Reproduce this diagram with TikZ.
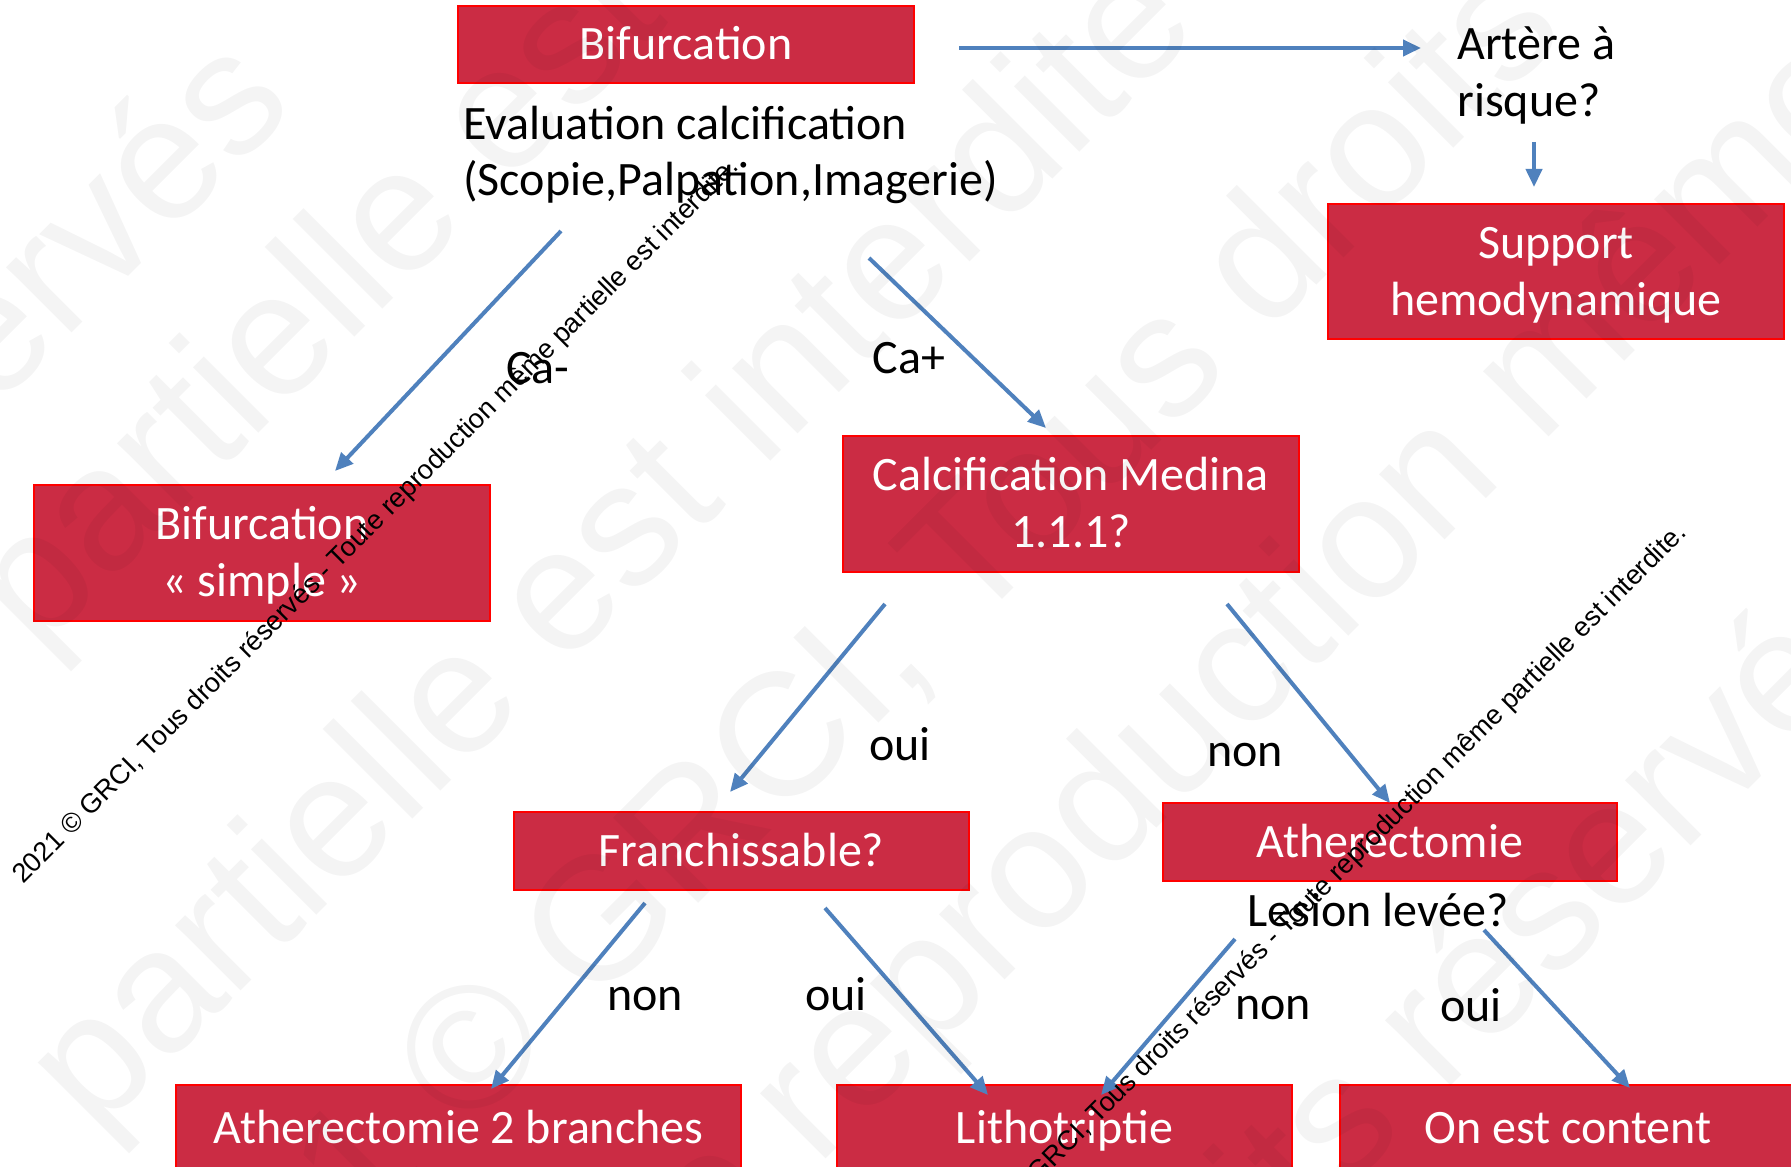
\documentclass[tikz,border=0pt]{standalone}
\usepackage{fontspec}
\setmainfont{Carlito}
\newfontfamily\wmfont{Liberation Sans}
\usetikzlibrary{arrows.meta}
\definecolor{boxfill}{RGB}{203,44,68}
\definecolor{boxline}{RGB}{255,0,0}
\definecolor{arrowblue}{RGB}{79,129,189}
\newcommand{\mainsz}{\fontsize{24}{28.5}\selectfont}
\newcommand{\wmbig}{\wmfont\fontsize{87.5}{100}\selectfont}
\newcommand{\wmsmall}{\wmfont\fontsize{13.6}{16}\selectfont}
\newcommand{\bxstrut}{\rule[-0.26em]{0pt}{1.16em}}
\begin{document}
\begin{tikzpicture}[x=0.5pt,y=-0.5pt,
  box/.style={draw=boxline, line width=1pt, fill=boxfill, text=white, inner sep=0pt, align=center, font=\mainsz},
  txt/.style={inner sep=0pt, text=black, font=\mainsz},
  lbl/.style={inner sep=0pt, text=black, font=\mainsz, anchor=base},
  arr/.style={draw=arrowblue, line width=2pt, -{Triangle[length=9pt,width=8pt]}},
  wm/.style={inner sep=0pt, rotate=45, text=black, text opacity=0.045, font=\wmbig, anchor=base west},
  crt/.style={inner sep=0pt, rotate=45, text=black, font=\wmsmall},
]
\useasboundingbox (0,0) rectangle (1791,1166);
\clip (0,0) rectangle (1791,1166);
\fill[white] (0,0) rectangle (1791,1166);

% boxes
\node[box, minimum width=228pt, minimum height=38.5pt] (bif) at (686,44.5) {\bxstrut Bifurcation};
\node[box, minimum width=228pt, minimum height=67.5pt] (supp) at (1556,271.5) {\bxstrut Support\\\bxstrut hemodynamique};
\node[box, minimum width=228pt, minimum height=68pt] (simp) at (262,553) {\bxstrut Bifurcation\\\bxstrut « simple »};
\node[box, minimum width=228pt, minimum height=68pt] (med) at (1071,504) {\bxstrut Calcification Medina\\\bxstrut 1.1.1?};
\node[box, minimum width=227.5pt, minimum height=39pt] (fran) at (741.5,851) {\bxstrut Franchissable?};
\node[box, minimum width=227pt, minimum height=39pt] (ath) at (1390,842) {\bxstrut Atherectomie};
\node[box, minimum width=282.5pt, minimum height=43pt] (ath2) at (458.5,1128) {\bxstrut Atherectomie 2 branches};
\node[box, minimum width=227.5pt, minimum height=43pt] (lith) at (1064.5,1128) {\bxstrut Lithotriptie};
\node[box, minimum width=228pt, minimum height=43pt] (cont) at (1568,1128) {\bxstrut On est content};

% free texts
\node[txt, anchor=base west] (ev1) at (463,140) {Evaluation calcification};
\node[txt, anchor=base west] (ev2) at (463,196) {(Scopie,Palpation,Imagerie)};
\node[txt, anchor=base west] (art1) at (1457,60) {Artère à};
\node[txt, anchor=base west] (art2) at (1457,117) {risque?};
\node[txt, anchor=base west] (les) at (1247,926) {Lesion levée?};

% labels
\node[lbl] (lcam) at (538,383) {Ca-};
\node[lbl] (lcap) at (909,373) {Ca+};
\node[lbl] (loui1) at (900,760) {oui};
\node[lbl] (lnon1) at (1245,766) {non};
\node[lbl] (lnon2) at (645,1010) {non};
\node[lbl] (loui2) at (836,1010) {oui};
\node[lbl] (lnon3) at (1273,1019) {non};
\node[lbl] (loui3) at (1471,1021) {oui};

% arrow end points
\coordinate (a0s) at (959,48);   \coordinate (a0e) at (1421,48);
\coordinate (a1s) at (1534,142); \coordinate (a1e) at (1534,187);
\coordinate (a2s) at (561,231);  \coordinate (a2e) at (335,471);
\coordinate (a3s) at (869,258);  \coordinate (a3e) at (1046,428);
\coordinate (a4s) at (885,604);  \coordinate (a4e) at (730,792);
\coordinate (a5s) at (1227,604); \coordinate (a5e) at (1390,803);
\coordinate (a6s) at (645,903);  \coordinate (a6e) at (491,1089);
\coordinate (a7s) at (825,908);  \coordinate (a7e) at (988,1095);
\coordinate (a8s) at (1235,939); \coordinate (a8e) at (1101,1095);
\coordinate (a9s) at (1484,930); \coordinate (a9e) at (1630,1088);
\draw[arr] (a0s) -- (a0e);
\draw[arr] (a1s) -- (a1e);
\draw[arr] (a2s) -- (a2e);
\draw[arr] (a3s) -- (a3e);
\draw[arr] (a4s) -- (a4e);
\draw[arr] (a5s) -- (a5e);
\draw[arr] (a6s) -- (a6e);
\draw[arr] (a7s) -- (a7e);
\draw[arr] (a8s) -- (a8e);
\draw[arr] (a9s) -- (a9e);

% faint watermark
\node[wm] (wm1) at (-810,1215) {Tous droits réservés};
\node[wm] (wm2) at (37,655) {partielle est interdite};
\node[wm] (wm3) at (95,1137) {partielle est interdite};
\node[wm] (wm4) at (157,1445) {2021 © GRCI, Tous droits réservés};
\node[wm] (wm5) at (405,1580) {- Toute reproduction même partielle};
\node[wm] (wm6) at (1105,1432) {droits réservés - Toute};

% copyright lines
\node[crt, anchor=base west] (cr1) at (23,885) {2021 © GRCI, Tous droits réservés - Toute reproduction même partielle est interdite.};
\node[crt, anchor=base east] (cr2) at (1688,534) {2021 © GRCI, Tous droits réservés - Toute reproduction même partielle est interdite.};
\end{tikzpicture}
\end{document}
